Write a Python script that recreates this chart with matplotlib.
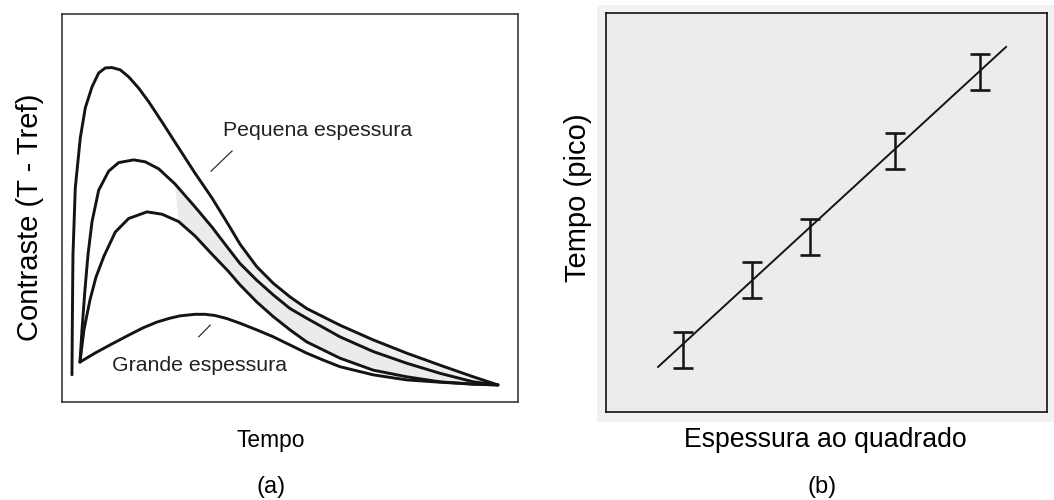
import numpy as np
import matplotlib
matplotlib.use("Agg")
import matplotlib.pyplot as plt
from matplotlib.patches import Rectangle

plt.rcParams["font.family"] = ["Liberation Sans", "DejaVu Sans"]

INK = "#141414"
FRAME_A = "#3a3a3a"
SHADE = "#ebebeb"
PANEL_B = "#ececec"

# (a) thermal contrast curves, tempo in arbitrary units (0-10), contrast normalised (0-1)
thin_t = [0.219, 0.226, 0.235, 0.241, 0.292, 0.401, 0.511, 0.658, 0.805, 0.950, 1.096, 1.279,
          1.463, 1.682, 1.901, 2.193, 2.559, 2.917, 3.289, 3.640, 3.904, 4.270, 4.634, 5.000,
          5.366, 6.096, 6.827, 7.559, 8.289, 9.020, 9.561]
thin_c = [0.070, 0.186, 0.307, 0.379, 0.552, 0.680, 0.758, 0.812, 0.848, 0.861, 0.862, 0.856,
          0.838, 0.809, 0.774, 0.722, 0.655, 0.590, 0.526, 0.459, 0.407, 0.349, 0.306, 0.271,
          0.241, 0.198, 0.160, 0.126, 0.095, 0.065, 0.044]

mid1_t = [0.395, 0.439, 0.504, 0.570, 0.658, 0.805, 1.024, 1.243, 1.572, 1.827, 2.121, 2.478,
          2.917, 3.289, 3.640, 3.904, 4.270, 4.634, 5.000, 5.366, 6.096, 6.827, 7.559, 8.289,
          9.020, 9.561]
mid1_c = [0.103, 0.186, 0.289, 0.379, 0.464, 0.546, 0.595, 0.617, 0.624, 0.619, 0.601, 0.562,
          0.503, 0.451, 0.397, 0.357, 0.314, 0.276, 0.241, 0.216, 0.168, 0.130, 0.100, 0.074,
          0.052, 0.044]

mid2_t = [0.395, 0.482, 0.614, 0.746, 0.921, 1.169, 1.463, 1.864, 2.193, 2.559, 2.917, 3.289,
          3.640, 3.904, 4.270, 4.634, 5.000, 5.366, 6.096, 6.827, 7.559, 8.289, 9.020, 9.561]
mid2_c = [0.103, 0.186, 0.263, 0.322, 0.376, 0.438, 0.473, 0.490, 0.484, 0.465, 0.428, 0.381,
          0.338, 0.302, 0.258, 0.220, 0.186, 0.155, 0.113, 0.082, 0.065, 0.052, 0.046, 0.044]

thick_t = [0.395, 0.724, 1.053, 1.425, 1.776, 2.083, 2.368, 2.588, 2.917, 3.136, 3.355, 3.618,
           3.904, 4.270, 4.634, 5.000, 5.366, 5.730, 6.096, 6.827, 7.559, 8.289, 9.020, 9.561]
thick_c = [0.103, 0.126, 0.147, 0.170, 0.191, 0.206, 0.216, 0.222, 0.226, 0.226, 0.223, 0.215,
           0.203, 0.186, 0.168, 0.147, 0.126, 0.108, 0.091, 0.070, 0.057, 0.051, 0.046, 0.044]

# (b) peak time vs thickness squared, arbitrary units (0-100)
esp2 = [17.5, 33.1, 46.3, 65.5, 84.8]
t_pico = [15.5, 33.1, 43.9, 65.5, 85.1]
t_err = [4.5, 4.5, 4.5, 4.5, 4.5]
fit_x = [11.8, 90.7]
fit_y = [11.3, 91.5]

fig = plt.figure(figsize=(10.54, 5.0), dpi=100)

# light grey backdrop behind panel (b)
fig.patches.append(Rectangle((0.566, 0.156), 0.434, 0.834, transform=fig.transFigure,
                             facecolor="#f2f2f2", edgecolor="none", zorder=-5))

# ---- panel (a)
axa = fig.add_axes([0.0588, 0.196, 0.4326, 0.776])
axa.set_xlim(0, 10); axa.set_ylim(0, 1)
axa.set_xticks([]); axa.set_yticks([])
for s in axa.spines.values():
    s.set_color(FRAME_A); s.set_linewidth(1.2)

t1, c1 = np.array(thin_t), np.array(thin_c)
t2, c2 = np.array(mid1_t), np.array(mid1_c)
t3, c3 = np.array(mid2_t), np.array(mid2_c)
t4, c4 = np.array(thick_t), np.array(thick_c)

# shaded bands between the upper three curves
s2, s3 = t2 >= 2.45, t3 >= 2.45
axa.fill(np.r_[t2[s2], t3[s3][::-1]], np.r_[c2[s2], c3[s3][::-1]],
         color=SHADE, lw=0, zorder=1)
s1, s2b = t1 >= 3.9, t2 >= 3.9
axa.fill(np.r_[t1[s1], t2[s2b][::-1]], np.r_[c1[s1], c2[s2b][::-1]],
         color="#efefef", lw=0, zorder=1)

for t, c in [(t1, c1), (t2, c2), (t3, c3), (t4, c4)]:
    axa.plot(t, c, color=INK, lw=2.1, solid_joinstyle="round", solid_capstyle="round", zorder=3)

axa.text(3.53, 0.701, "Pequena espessura", fontsize=15.3, color="#222222",
         ha="left", va="center")
axa.plot([3.73, 3.27], [0.647, 0.595], color="#333333", lw=0.9)
axa.text(1.10, 0.095, "Grande espessura", fontsize=15.3, color="#222222",
         ha="left", va="center")
axa.plot([3.25, 3.00], [0.198, 0.168], color="#333333", lw=0.9)

# ---- panel (b)
axb = fig.add_axes([0.575, 0.176, 0.4184, 0.798])
axb.set_facecolor(PANEL_B)
axb.set_xlim(0, 100); axb.set_ylim(0, 100)
axb.set_xticks([]); axb.set_yticks([])
for s in axb.spines.values():
    s.set_color("#111111"); s.set_linewidth(1.2)

axb.plot(fit_x, fit_y, color=INK, lw=1.4, zorder=3)
axb.errorbar(esp2, t_pico, yerr=t_err, fmt="none", ecolor=INK, elinewidth=1.8,
             capsize=7, capthick=1.9, zorder=4)

# ---- axis titles and panel tags
fig.text(0.0285, 0.566, "Contraste (T - Tref)", rotation=90, fontsize=21,
         ha="center", va="center")
fig.text(0.257, 0.118, "Tempo", fontsize=16.4, ha="center", va="center")
fig.text(0.257, 0.026, "(a)", fontsize=17, ha="center", va="center")
fig.text(0.548, 0.604, "Tempo (pico)", rotation=90, fontsize=21,
         ha="center", va="center")
fig.text(0.783, 0.120, "Espessura ao quadrado", fontsize=19.2, ha="center", va="center")
fig.text(0.780, 0.026, "(b)", fontsize=17, ha="center", va="center")

fig.savefig("out.png", facecolor="white")
